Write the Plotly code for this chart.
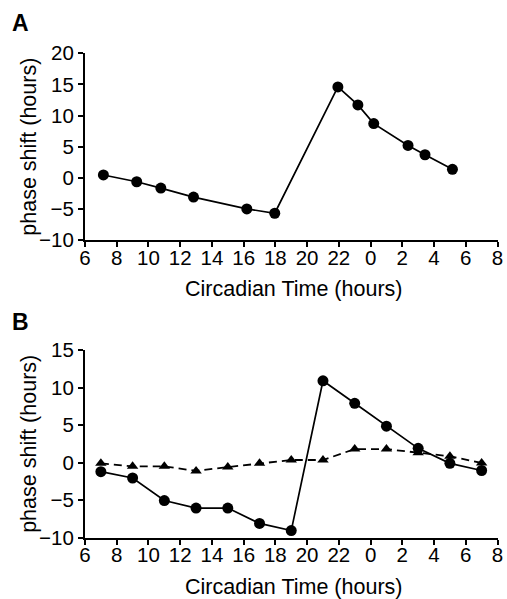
import plotly.graph_objects as go

# Panel A data (circadian time as continuous hours; 24+ wraps to next day)
a_ct = [7.16, 9.26, 10.78, 12.84, 16.2, 17.96, 21.94, 23.2, 24.2, 26.36, 27.43, 29.16]
a_shift = [0.45, -0.64, -1.66, -3.1, -5.0, -5.7, 14.6, 11.7, 8.7, 5.2, 3.7, 1.35]

# Panel B data
b_ct = [7, 9, 11, 13, 15, 17, 19, 21, 23, 25, 27, 29, 31]
b_circle = [-1.2, -2.05, -5.05, -6.05, -6.05, -8.1, -9.05, 10.9, 7.9, 4.85, 1.9, -0.1, -1.05]
b_triangle = [-0.1, -0.5, -0.5, -1.1, -0.6, -0.1, 0.35, 0.35, 1.8, 1.8, 1.3, 0.85, -0.05]

x_tickvals = [6, 8, 10, 12, 14, 16, 18, 20, 22, 24, 26, 28, 30, 32]
x_ticktext = ["6", "8", "10", "12", "14", "16", "18", "20", "22", "0", "2", "4", "6", "8"]
a_yticks = [-10, -5, 0, 5, 10, 15, 20]
b_yticks = [-10, -5, 0, 5, 10, 15]

FONT = "Liberation Sans, Arial, Helvetica, sans-serif"
TICKFONT = dict(family=FONT, size=20.5, color="black")
TITLEFONT = dict(family=FONT, size=21.5, color="black")

fig = go.Figure()

fig.add_trace(go.Scatter(
    x=a_ct, y=a_shift, mode="lines+markers",
    line=dict(color="black", width=1.7),
    marker=dict(symbol="circle", size=11, color="black"),
    xaxis="x", yaxis="y", showlegend=False, cliponaxis=False))

fig.add_trace(go.Scatter(
    x=b_ct, y=b_triangle, mode="lines+markers",
    line=dict(color="black", width=1.8, dash="8px,5px"),
    marker=dict(symbol="triangle-up", size=10, color="black"),
    xaxis="x2", yaxis="y2", showlegend=False, cliponaxis=False))

fig.add_trace(go.Scatter(
    x=b_ct, y=b_circle, mode="lines+markers",
    line=dict(color="black", width=1.7),
    marker=dict(symbol="circle", size=11, color="black"),
    xaxis="x2", yaxis="y2", showlegend=False, cliponaxis=False))

xdom = [85 / 507, 497.5 / 507]
ydomA = [(599 - 240) / 599, (599 - 53.3) / 599]
ydomB = [(599 - 537.7) / 599, (599 - 350) / 599]

common_x = dict(range=[6, 32], tickvals=x_tickvals, ticktext=x_ticktext,
                showline=True, linecolor="black", linewidth=2,
                ticks="outside", ticklen=5, tickwidth=2, tickcolor="black",
                showgrid=False, zeroline=False, tickfont=TICKFONT,
                ticklabelstandoff=-7,
                automargin=False, domain=xdom)
common_y = dict(showline=True, linecolor="black", linewidth=2,
                ticks="outside", ticklen=5, tickwidth=2, tickcolor="black",
                showgrid=False, zeroline=False, tickfont=TICKFONT,
                automargin=False)

fig.update_layout(
    width=507, height=599,
    margin=dict(l=0, r=0, t=0, b=0),
    paper_bgcolor="white", plot_bgcolor="white",
    xaxis=dict(anchor="y", **common_x),
    yaxis=dict(anchor="x", range=[-10, 20], tickvals=a_yticks, domain=ydomA, **common_y),
    xaxis2=dict(anchor="y2", **common_x),
    yaxis2=dict(anchor="x2", range=[-10, 15], tickvals=b_yticks, domain=ydomB, **common_y),
    annotations=[
        dict(text="Circadian Time (hours)", x=293 / 507, y=(599 - 289) / 599,
             xref="paper", yref="paper", xanchor="center", yanchor="middle",
             showarrow=False, font=TITLEFONT, borderpad=0),
        dict(text="Circadian Time (hours)", x=293 / 507, y=(599 - 587) / 599,
             xref="paper", yref="paper", xanchor="center", yanchor="middle",
             showarrow=False, font=TITLEFONT, borderpad=0),
        dict(text="phase shift (hours)", x=29 / 507, y=(599 - 146.7) / 599,
             xref="paper", yref="paper", xanchor="center", yanchor="middle",
             textangle=-90, showarrow=False, font=TITLEFONT),
        dict(text="phase shift (hours)", x=29 / 507, y=(599 - 443.85) / 599,
             xref="paper", yref="paper", xanchor="center", yanchor="middle",
             textangle=-90, showarrow=False, font=TITLEFONT),
        dict(text="<b>A</b>", x=20.5 / 507, y=(599 - 23.5) / 599,
             xref="paper", yref="paper", xanchor="center", yanchor="middle",
             showarrow=False, font=dict(family=FONT, size=23, color="black")),
        dict(text="<b>B</b>", x=20.5 / 507, y=(599 - 321.5) / 599,
             xref="paper", yref="paper", xanchor="center", yanchor="middle",
             showarrow=False, font=dict(family=FONT, size=23, color="black")),
    ],
)

fig.write_html("out.html")
